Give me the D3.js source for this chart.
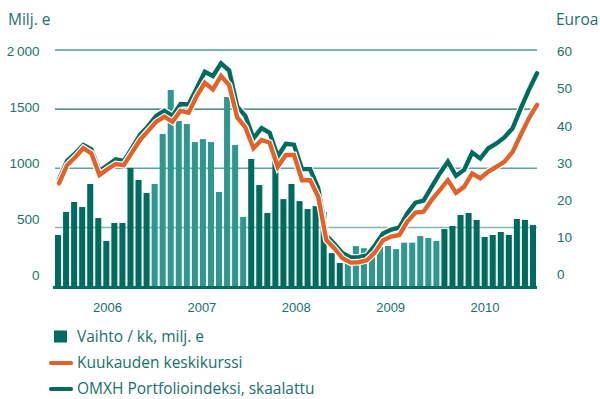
<!DOCTYPE html>
<html>
<head>
<meta charset="utf-8">
<script src="https://cdn.jsdelivr.net/npm/d3@7"></script>
<style>
  body { margin: 0; background: #fff; }
  svg { display: block; font-family: "Open Sans", "Noto Sans", sans-serif; }
</style>
</head>
<body>
<svg id="chart" width="600" height="399"></svg>
<script>
// ---- data ---------------------------------------------------------------
const years = [2006, 2007, 2008, 2009, 2010];
const months = years.flatMap(y => d3.range(1, 13).map(m => `${y}-${String(m).padStart(2, "0")}`));

// Monthly turnover, million euros (left axis)
const turnover = [
  437, 631, 716, 673, 868, 580, 386, 538, 538, 1003, 902, 792,
  868, 1290, 1662, 1400, 1375, 1222, 1247, 1222, 800, 1603, 1197, 589,
  1079, 859, 623, 1113, 740, 868, 723, 656, 681, 631, 284, 200,
  259, 343, 325, 325, 372, 344, 318, 372, 372, 428, 411, 386,
  487, 513, 606, 623, 564, 420, 437, 462, 437, 572, 564, 521
];

// Monthly average share price, euros (right axis)
const avgPrice = [
  26.2, 30.8, 32.8, 35.1, 33.8, 28.3, 29.8, 31.1, 30.8, 34.0, 37.2, 39.5,
  41.8, 43.1, 41.8, 44.6, 44.1, 48.3, 51.7, 50.0, 53.4, 51.1, 42.9, 40.4,
  35.1, 37.2, 36.5, 30.4, 33.4, 33.4, 27.0, 27.0, 22.8, 11.8, 9.7, 7.2,
  6.1, 6.2, 6.7, 8.7, 11.8, 12.7, 13.1, 16.5, 18.8, 19.0, 22.0, 24.5,
  27.0, 23.8, 25.3, 28.7, 27.5, 29.2, 30.4, 31.7, 34.2, 38.5, 42.7, 46.1
];

// OMXH portfolio index, scaled to the price axis
const portfolioIndex = [
  27.2, 31.9, 33.8, 35.9, 34.8, 29.4, 30.8, 32.3, 31.9, 35.1, 38.5, 40.7,
  43.3, 44.6, 43.3, 46.3, 46.2, 50.3, 54.5, 53.4, 56.6, 54.8, 45.6, 43.3,
  37.6, 40.2, 39.0, 33.0, 36.2, 36.0, 29.8, 29.8, 24.9, 13.0, 10.8, 8.5,
  7.4, 7.5, 7.9, 10.5, 13.5, 14.5, 15.0, 18.6, 21.3, 21.8, 25.3, 28.7,
  31.7, 28.1, 29.6, 34.0, 32.5, 35.1, 36.3, 37.9, 40.2, 45.2, 49.9, 54.1
];

const leftTicks = [0, 500, 1000, 1500, 2000];
const leftTickLabels = ["0", "500", "1000", "1500", "2\u2009000"];
const rightTicks = [0, 10, 20, 30, 40, 50, 60];
const legendLabels = ["Vaihto / kk, milj. e", "Kuukauden keskikurssi", "OMXH Portfolioindeksi, skaalattu"];

// ---- styling --------------------------------------------------------------
const TEXT = "#17706a";
const DARK = "#006b5f";
const LIGHT = "#2f9690";
const ORANGE = "#e0632b";
const gridStyle = {
  500:  { stroke: "#80b8b0", width: 1.5 },
  1000: { stroke: "#5fa49b", width: 1.5 },
  1500: { stroke: "#1d6e65", width: 1.3 },
  2000: { stroke: "#7ab4ac", width: 2 }
};

const svg = d3.select("#chart");

// ---- scales ---------------------------------------------------------------
const x = d3.scaleBand().domain(months).range([54, 537]).paddingInner(0.25).paddingOuter(0.125);
const xLine = d3.scalePoint().domain(months).range([59, 537]);
const xYear = d3.scalePoint().domain(years).range([107, 484.5]);
const yLeft = d3.scaleLinear().domain([0, 2000]).range([286.7, 50]);
const yRight = d3.scaleLinear().domain([0, 60]).range([286.7, 50]);
// tick-label placement
const yLeftLabel = d3.scaleLinear().domain([0, 2000]).range([275.3, 51.5]);
const yRightLabel = d3.scaleLinear().domain([0, 60]).range([274.5, 51.3]);

// ---- gridlines ------------------------------------------------------------
svg.append("g")
  .selectAll("line")
  .data(leftTicks.filter(d => d > 0))
  .join("line")
  .attr("x1", 55).attr("x2", 537)
  .attr("y1", d => yLeft(d)).attr("y2", d => yLeft(d))
  .attr("stroke", d => gridStyle[d].stroke)
  .attr("stroke-width", d => gridStyle[d].width);

// ---- bars -----------------------------------------------------------------
svg.append("g")
  .selectAll("rect")
  .data(months)
  .join("rect")
  .attr("x", d => x(d))
  .attr("width", x.bandwidth())
  .attr("y", (d, i) => yLeft(turnover[i]))
  .attr("height", (d, i) => yLeft(0) - yLeft(turnover[i]))
  .attr("fill", d => (years.indexOf(+d.slice(0, 4)) % 2 === 0 ? DARK : LIGHT));

// baseline
svg.append("line")
  .attr("x1", 53).attr("x2", 537)
  .attr("y1", yLeft(0) + 0.8).attr("y2", yLeft(0) + 0.8)
  .attr("stroke", DARK).attr("stroke-width", 3);

// ---- lines ----------------------------------------------------------------
const line = d3.line()
  .x((d, i) => xLine(months[i]))
  .y(d => yRight(d))
  .curve(d3.curveLinear);

[[portfolioIndex, DARK], [avgPrice, ORANGE]].forEach(([series, color]) => {
  svg.append("path")
    .attr("d", line(series))
    .attr("fill", "none")
    .attr("stroke", "#fff")
    .attr("stroke-width", 6.8)
    .attr("stroke-linejoin", "miter");
  svg.append("path")
    .attr("d", line(series))
    .attr("fill", "none")
    .attr("stroke", color)
    .attr("stroke-width", 4.4)
    .attr("stroke-linejoin", "miter")
    .attr("stroke-linecap", "round");
});

// ---- axes -----------------------------------------------------------------
function styleAxis(g, size) {
  g.select(".domain").remove();
  g.selectAll(".tick line").remove();
  g.selectAll("text")
    .attr("fill", TEXT)
    .style("font-size", size + "px")
    .style("font-stretch", "semi-condensed");
}

svg.append("g")
  .attr("transform", "translate(39.5,0)")
  .call(d3.axisLeft(yLeftLabel).tickValues(leftTicks)
    .tickFormat((d, i) => leftTickLabels[i]).tickSize(0).tickPadding(0))
  .call(g => styleAxis(g, 13.5));

svg.append("g")
  .attr("transform", "translate(557,0)")
  .call(d3.axisRight(yRightLabel).tickValues(rightTicks).tickSize(0).tickPadding(0))
  .call(g => styleAxis(g, 13.5));

svg.append("g")
  .attr("transform", "translate(0,302.5)")
  .call(d3.axisBottom(xYear).tickSize(0).tickPadding(0).tickFormat(d3.format("d")))
  .call(g => styleAxis(g, 13));

// axis titles
svg.append("text").attr("x", 8).attr("y", 25)
  .attr("fill", TEXT).style("font-size", "15.5px").text("Milj. e");
svg.append("text").attr("x", 556).attr("y", 25)
  .attr("fill", TEXT).style("font-size", "15.5px").text("Euroa");

// ---- legend ---------------------------------------------------------------
const legend = svg.append("g").attr("transform", "translate(0,342)");
const rowGap = 26;

legend.append("rect")
  .attr("x", 54).attr("y", -11.5).attr("width", 13).attr("height", 12)
  .attr("fill", DARK);
legend.append("line")
  .attr("x1", 51).attr("x2", 71).attr("y1", rowGap - 5).attr("y2", rowGap - 5)
  .attr("stroke", ORANGE).attr("stroke-width", 4.2).attr("stroke-linecap", "round");
legend.append("line")
  .attr("x1", 51).attr("x2", 71).attr("y1", 2 * rowGap - 5).attr("y2", 2 * rowGap - 5)
  .attr("stroke", DARK).attr("stroke-width", 4.2).attr("stroke-linecap", "round");

legend.selectAll("text.lbl")
  .data(legendLabels)
  .join("text")
  .attr("class", "lbl")
  .attr("x", 77)
  .attr("y", (d, i) => i * rowGap)
  .attr("fill", TEXT)
  .style("font-size", "15.5px")
  .text(d => d);
</script>
</body>
</html>
